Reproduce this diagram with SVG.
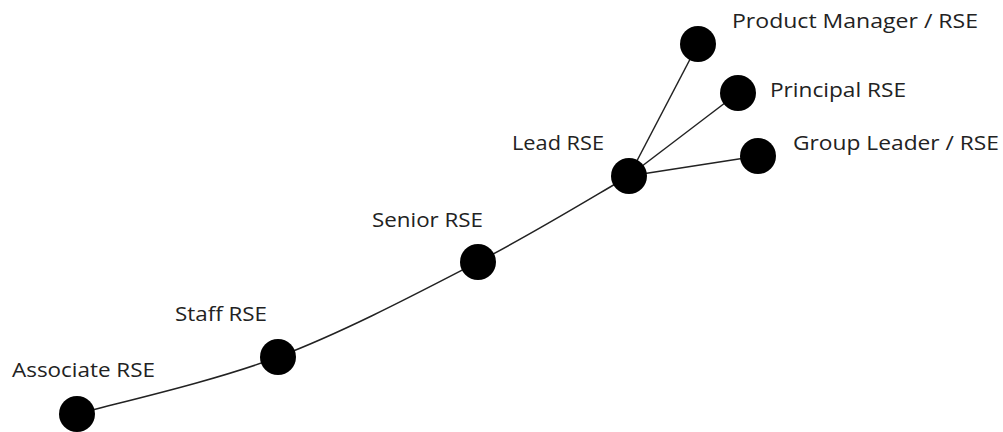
<svg xmlns="http://www.w3.org/2000/svg" width="1003" height="432" viewBox="0 0 1003 432">
<style>
.lbl{font-family:"Open Sans","Liberation Sans",sans-serif;font-size:20px;fill:#222}
.node{fill:#000}
.conn{fill:none;stroke:#222;stroke-width:1.5}
</style>
<rect width="1003" height="432" fill="#fff"/>
<g id="connectors">
<path class="conn" d="M77,414 C110.5,404.5 211.2,382.3 278,357 C344.8,331.7 419.5,292.2 478,262 C536.5,231.8 603.8,190.3 629,176"/>
<line class="conn" x1="629" y1="176" x2="698" y2="44"/>
<line class="conn" x1="629" y1="176" x2="738" y2="93"/>
<line class="conn" x1="629" y1="176" x2="758" y2="156"/>
</g>
<g id="associate"><circle class="node" cx="77" cy="414" r="18"/><text class="lbl" x="12" y="377" textLength="143" lengthAdjust="spacingAndGlyphs">Associate RSE</text></g>
<g id="staff"><circle class="node" cx="278" cy="357" r="18"/><text class="lbl" x="175" y="321" textLength="92" lengthAdjust="spacingAndGlyphs">Staff RSE</text></g>
<g id="senior"><circle class="node" cx="478" cy="262" r="18"/><text class="lbl" x="372" y="227" textLength="111" lengthAdjust="spacingAndGlyphs">Senior RSE</text></g>
<g id="lead"><circle class="node" cx="629" cy="176" r="18"/><text class="lbl" x="512" y="150" textLength="92" lengthAdjust="spacingAndGlyphs">Lead RSE</text></g>
<g id="product"><circle class="node" cx="698" cy="44" r="18"/><text class="lbl" x="732" y="28" textLength="246" lengthAdjust="spacingAndGlyphs">Product Manager / RSE</text></g>
<g id="principal"><circle class="node" cx="738" cy="93" r="18"/><text class="lbl" x="770" y="97" textLength="136" lengthAdjust="spacingAndGlyphs">Principal RSE</text></g>
<g id="group"><circle class="node" cx="758" cy="156" r="18"/><text class="lbl" x="793" y="150" textLength="206" lengthAdjust="spacingAndGlyphs">Group Leader / RSE</text></g>
</svg>
